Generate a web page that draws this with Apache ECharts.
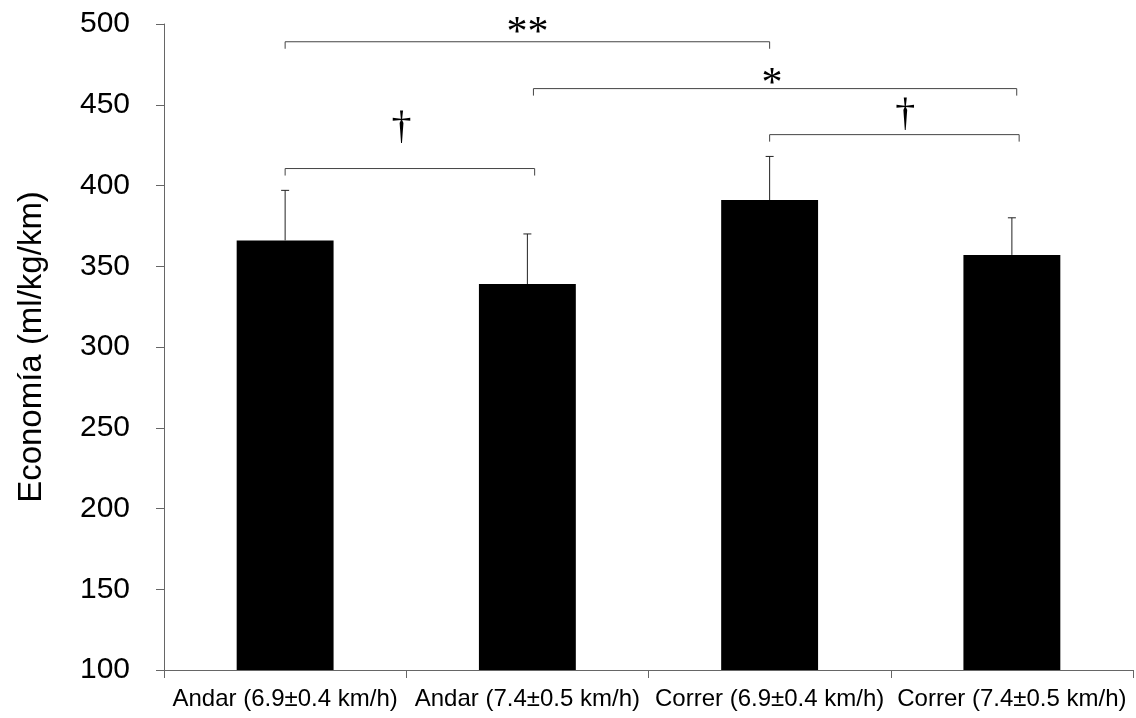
<!DOCTYPE html>
<html>
<head>
<meta charset="utf-8">
<script src="https://cdn.jsdelivr.net/npm/echarts@6/dist/echarts.min.js"></script>
<style>
  html, body { margin: 0; padding: 0; background: #fff; }
  #chart { width: 1136px; height: 718px; }
</style>
</head>
<body>
<div id="chart"></div>
<script>
// conditions and mean economy (ml/kg/km)
const categories = ['Andar (6.9±0.4 km/h)', 'Andar (7.4±0.5 km/h)', 'Correr (6.9±0.4 km/h)', 'Correr (7.4±0.5 km/h)']
const means = [366, 339, 391, 357]
const errUpper = [397, 370, 418, 380]

// significance brackets (x in category index units, y in axis units)
const bracketFrom = [0, 1.025, 0, 2.0]
const bracketTo = [2.0, 3.02, 1.03, 3.03]
const bracketLevel = [489, 460, 410.5, 431.5]
const bracketMark = ['**', '*', '†', '†']
const markX = [1.0, 2.01, 0.48, 2.56]
const markLevel = [494, 462, 436, 444]

const chart = echarts.init(document.getElementById('chart'))

const axisColor = '#666'

chart.setOption({
  animation: false,
  grid: { left: 164, right: 3, top: 24, bottom: 48, outerBoundsMode: 'none' },
  xAxis: [
    {
      type: 'category',
      data: categories,
      axisLine: { show: true, onZero: false, lineStyle: { color: axisColor, width: 1 } },
      axisTick: { show: true, length: 8, lineStyle: { color: axisColor } },
      axisLabel: { color: '#000', fontSize: 24, fontFamily: 'Liberation Sans', margin: 17, interval: 0 }
    },
    {
      type: 'value',
      min: -0.5,
      max: 3.5,
      show: false
    }
  ],
  yAxis: {
    type: 'value',
    min: 100,
    max: 500,
    interval: 50,
    name: 'Economía (ml/kg/km)',
    nameLocation: 'middle',
    nameGap: 116,
    nameTextStyle: { color: '#000', fontSize: 33, fontFamily: 'Liberation Sans' },
    axisLine: { show: true, onZero: false, lineStyle: { color: axisColor, width: 1 } },
    axisTick: { show: true, length: 8, lineStyle: { color: axisColor } },
    axisLabel: { color: '#000', fontSize: 30, fontFamily: 'Liberation Sans', margin: 34 },
    splitLine: { show: false }
  },
  series: [
    {
      type: 'bar',
      data: means,
      barWidth: '40%',
      itemStyle: { color: '#000' }
    },
    {
      type: 'custom',
      data: means.map((m, i) => [i, m, errUpper[i]]),
      renderItem: (params, api) => {
        const bottom = api.coord([api.value(0), api.value(1)])
        const top = api.coord([api.value(0), api.value(2)])
        const style = { stroke: '#222', lineWidth: 1 }
        return {
          type: 'group',
          children: [
            { type: 'line', shape: { x1: bottom[0], y1: bottom[1], x2: top[0], y2: top[1] }, style },
            { type: 'line', shape: { x1: top[0] - 4, y1: top[1], x2: top[0] + 4, y2: top[1] }, style }
          ]
        }
      },
      z: 3
    },
    {
      type: 'custom',
      xAxisIndex: 1,
      data: bracketFrom.map((f, i) => [f, bracketTo[i], bracketLevel[i], markX[i], markLevel[i]]),
      renderItem: (params, api) => {
        const a = api.coord([api.value(0), api.value(2)])
        const b = api.coord([api.value(1), api.value(2)])
        const m = api.coord([api.value(3), api.value(4)])
        const mark = bracketMark[params.dataIndex]
        const drop = 7
        const style = { stroke: '#444', lineWidth: 1, fill: null }
        const isDagger = mark === '†'
        return {
          type: 'group',
          children: [
            {
              type: 'polyline',
              shape: { points: [[a[0], a[1] + drop], [a[0], a[1]], [b[0], b[1]], [b[0], b[1] + drop]] },
              style
            },
            {
              type: 'text',
              x: m[0],
              y: m[1],
              style: {
                text: mark,
                fill: '#000',
                font: (isDagger ? '40px' : '42px') + ' "Liberation Serif"',
                align: 'center',
                verticalAlign: 'middle'
              }
            }
          ]
        }
      },
      z: 4
    }
  ]
})
</script>
</body>
</html>
